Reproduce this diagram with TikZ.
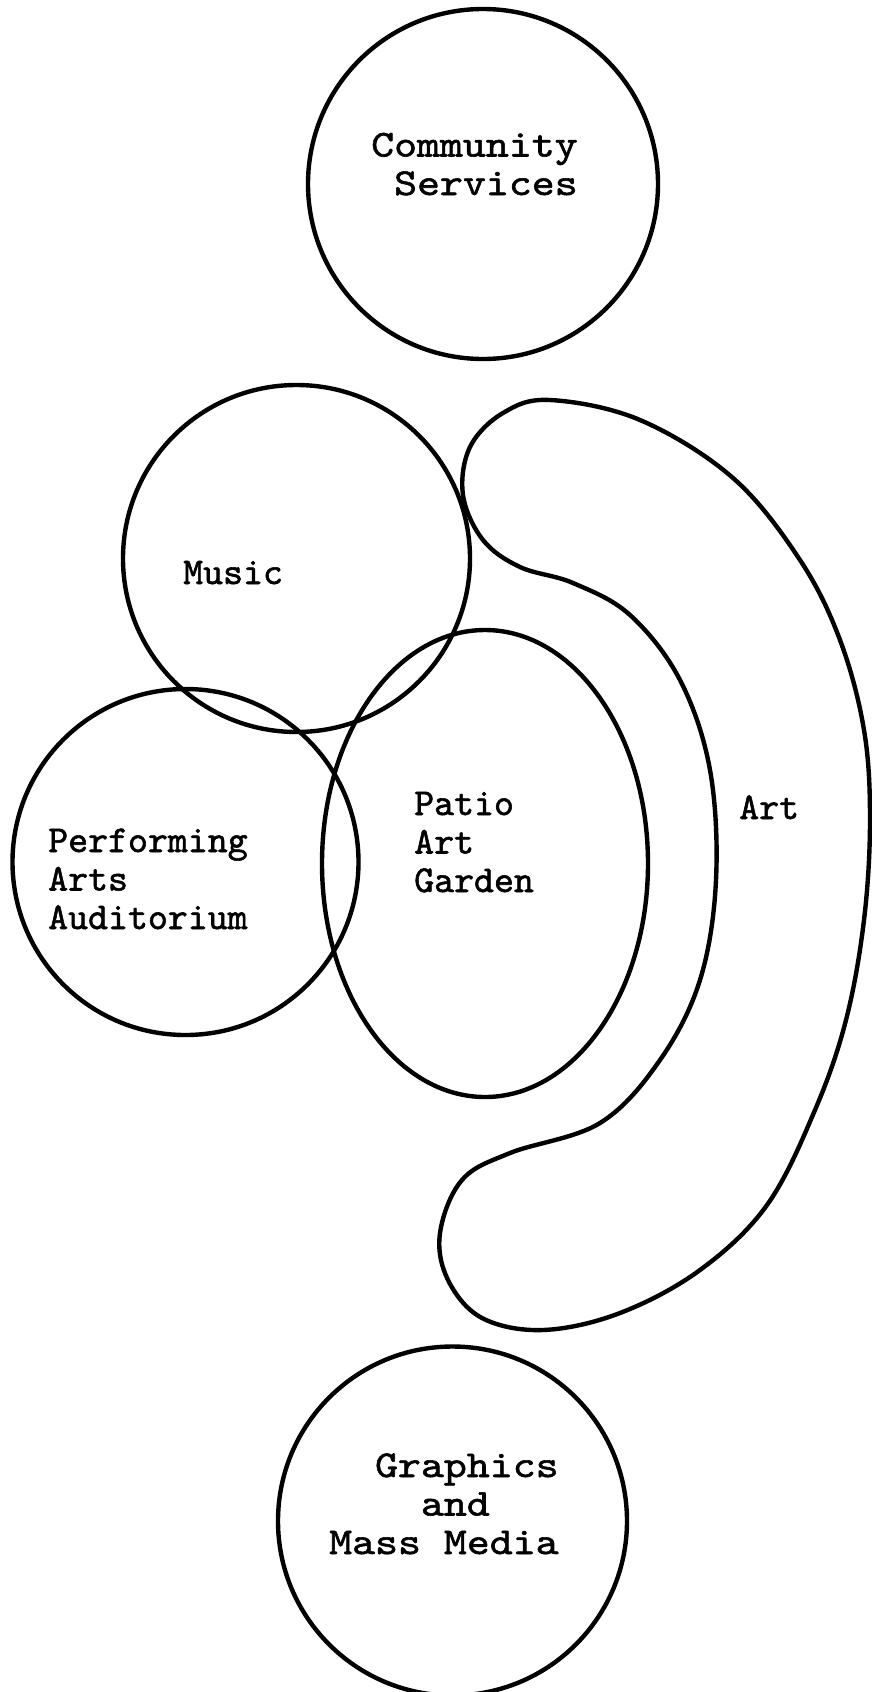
\documentclass[tikz,border=0pt]{standalone}
\usepackage{fontspec}
% two typewriter faces: a narrow one and a wider one
\newfontfamily\elitefont{lmmono10-regular.otf}[FakeBold=1.5]
\newfontfamily\picafont{lmmono10-regular.otf}[FakeBold=1.5,FakeStretch=1.15]
\begin{document}
\begin{tikzpicture}[x=1pt,y=-1pt,line width=4.4pt,line join=round,
  ring/.style={circle,draw,inner sep=0pt,minimum size=#1},
  typed/.style={anchor=base west,inner sep=0pt,align=left,
    font=\elitefont\fontsize{38}{38.5}\selectfont},
  wide/.style={anchor=base west,inner sep=0pt,
    font=\picafont\fontsize{38}{38.5}\selectfont}]
\useasboundingbox (0,0) rectangle (872,1692);

% areas
\node[ring=350pt] (community) at (483,184) {};
\node[ring=347pt] (music) at (296.5,558.5) {};
\node[ring=346pt] (auditorium) at (185.5,862) {};
\draw (485,863.5) ellipse [x radius=163, y radius=233.5];
\coordinate (garden) at (485,863.5);
\node[ring=349pt] (graphics) at (452.5,1521) {};

% the curved art wing
\draw plot[smooth cycle,tension=0.6] coordinates {
  (550,400) (640,420) (733,478) (800,560) (840,640) (864,730) (870,820)
  (864,920) (846,1020) (815,1110) (767,1205) (700,1270) (620,1313)
  (543,1330) (482,1318) (448,1280) (440,1233) (462,1180) (510,1153)
  (600,1123) (660,1060) (700,980) (716,880) (710,770) (680,680)
  (630,615) (573,583) (520,567) (483,540) (463,495) (470,447) (503,413)};

% labels (multi-line labels sit on the baseline of their last line)
\node[wide,align=right] (communitytext) at (369,195) {Community\\Services};
\node[typed] (musictext) at (181,584) {Music};
\node[typed] (auditoriumtext) at (46,929) {Performing\\Arts\\Auditorium};
\node[typed] (gardentext) at (412,892) {Patio\\Art\\Garden};
\node[typed] (arttext) at (737,819) {Art};
\node[wide,align=left] (graphicstext) at (327,1554)
  {\hphantom{MM}Graphics\\\hphantom{MMMM}and\\Mass Media};
\end{tikzpicture}
\end{document}
